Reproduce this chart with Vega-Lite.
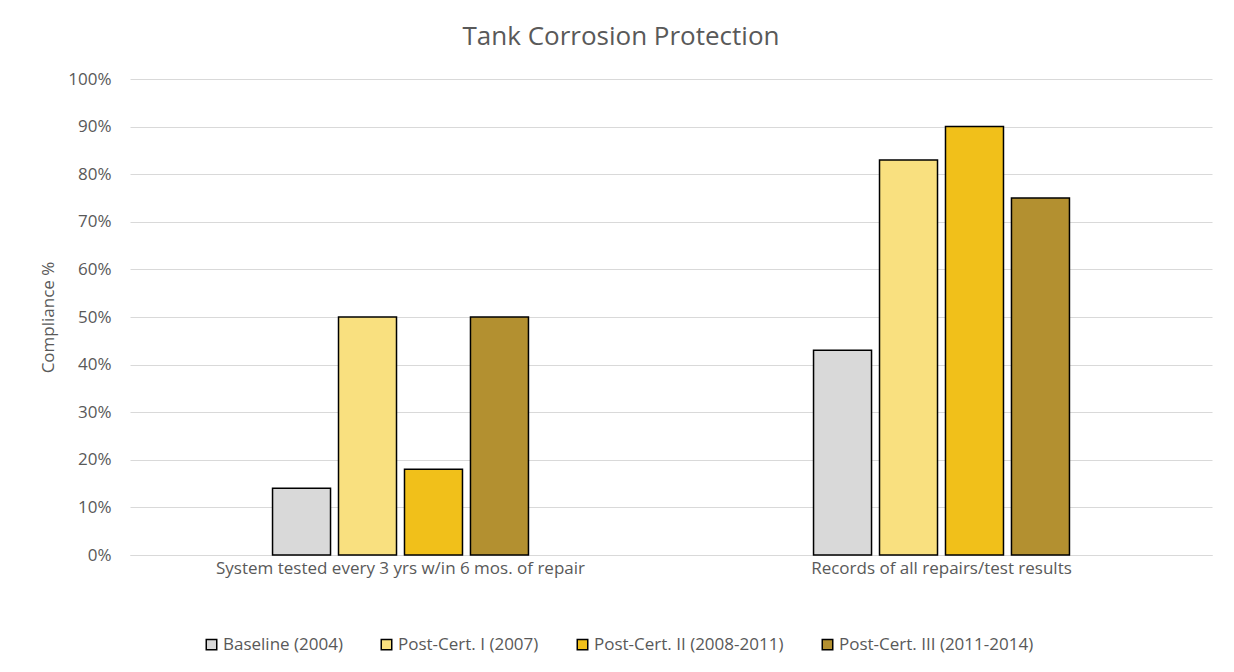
{
  "$schema": "https://vega.github.io/schema/vega-lite/v6.json",
  "width": 1082,
  "height": 476,
  "autosize": "none",
  "padding": {"left": 130, "top": 79, "right": 22, "bottom": 117},
  "background": "white",
  "title": {
    "text": "Tank Corrosion Protection",
    "font": "Open Sans",
    "fontSize": 26,
    "fontWeight": "normal",
    "color": "#595959",
    "anchor": "middle",
    "baseline": "middle",
    "dx": -50,
    "offset": 7
  },
  "data": {
    "values": [
      {"category": "System tested every 3 yrs w/in 6 mos. of repair", "series": "Baseline (2004)", "value": 0.14},
      {"category": "System tested every 3 yrs w/in 6 mos. of repair", "series": "Post-Cert. I (2007)", "value": 0.50},
      {"category": "System tested every 3 yrs w/in 6 mos. of repair", "series": "Post-Cert. II (2008-2011)", "value": 0.18},
      {"category": "System tested every 3 yrs w/in 6 mos. of repair", "series": "Post-Cert. III (2011-2014)", "value": 0.50},
      {"category": "Records of all repairs/test results", "series": "Baseline (2004)", "value": 0.43},
      {"category": "Records of all repairs/test results", "series": "Post-Cert. I (2007)", "value": 0.83},
      {"category": "Records of all repairs/test results", "series": "Post-Cert. II (2008-2011)", "value": 0.90},
      {"category": "Records of all repairs/test results", "series": "Post-Cert. III (2011-2014)", "value": 0.75}
    ]
  },
  "mark": {"type": "bar", "stroke": "black", "strokeWidth": 1.5},
  "encoding": {
    "x": {
      "field": "category",
      "type": "nominal",
      "sort": null,
      "scale": {"paddingInner": 0.283, "paddingOuter": 0.1415},
      "axis": {
        "title": null,
        "labelAngle": 0,
        "labelFont": "Open Sans",
        "labelFontSize": 17,
        "labelColor": "#595959",
        "labelPadding": 5,
        "labelLimit": 0,
        "ticks": false,
        "domainColor": "#d9d9d9",
        "domainWidth": 1
      }
    },
    "xOffset": {
      "field": "series",
      "type": "nominal",
      "sort": ["Baseline (2004)", "Post-Cert. I (2007)", "Post-Cert. II (2008-2011)", "Post-Cert. III (2011-2014)"],
      "scale": {"paddingInner": 0.121, "paddingOuter": 1}
    },
    "y": {
      "field": "value",
      "type": "quantitative",
      "scale": {"domain": [0, 1], "nice": false},
      "axis": {
        "values": [0, 0.1, 0.2, 0.3, 0.4, 0.5, 0.6, 0.7, 0.8, 0.9, 1],
        "format": ".0%",
        "title": "Compliance %",
        "titleFont": "Open Sans",
        "titleFontSize": 17,
        "titleFontWeight": "normal",
        "titleColor": "#595959",
        "titleAngle": 270,
        "titleBaseline": "middle",
        "titleAlign": "center",
        "titleX": -82,
        "titleY": 238,
        "labelFont": "Open Sans",
        "labelFontSize": 17,
        "labelColor": "#595959",
        "labelPadding": 19,
        "ticks": false,
        "domain": false,
        "gridColor": "#d9d9d9",
        "gridWidth": 1
      }
    },
    "color": {
      "field": "series",
      "type": "nominal",
      "sort": ["Baseline (2004)", "Post-Cert. I (2007)", "Post-Cert. II (2008-2011)", "Post-Cert. III (2011-2014)"],
      "scale": {
        "domain": ["Baseline (2004)", "Post-Cert. I (2007)", "Post-Cert. II (2008-2011)", "Post-Cert. III (2011-2014)"],
        "range": ["#d9d9d9", "#f9e07f", "#f1c01a", "#b39030"]
      },
      "legend": {
        "title": null,
        "orient": "none",
        "legendX": 73,
        "legendY": 557,
        "direction": "horizontal",
        "columns": 4,
        "columnPadding": 35,
        "symbolType": "square",
        "symbolSize": 110,
        "symbolStrokeColor": "black",
        "symbolStrokeWidth": 1.5,
        "symbolOpacity": 1,
        "labelFont": "Open Sans",
        "labelFontSize": 17,
        "labelColor": "#595959",
        "labelOffset": 3,
        "labelLimit": 0
      }
    }
  },
  "config": {
    "view": {"stroke": null}
  }
}
